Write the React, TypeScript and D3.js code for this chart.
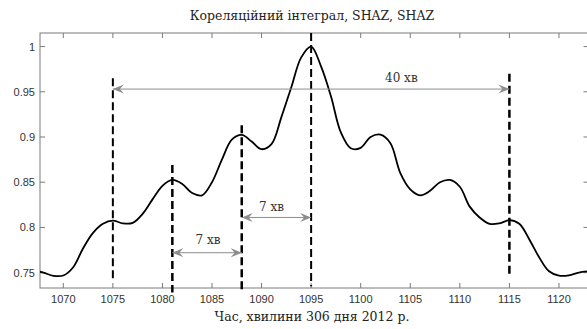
import React, { useRef, useEffect } from "react";
import * as d3 from "d3";

// correlation integral (minute -> value)
const minutes = [
  1067, 1068, 1069, 1070, 1071, 1072, 1073, 1074, 1075, 1076, 1077, 1078, 1079, 1080,
  1081, 1082, 1083, 1084, 1085, 1086, 1087, 1088, 1089, 1090, 1091, 1092, 1093, 1094,
  1095, 1096, 1097, 1098, 1099, 1100, 1101, 1102, 1103, 1104, 1105, 1106, 1107, 1108,
  1109, 1110, 1111, 1112, 1113, 1114, 1115, 1116, 1117, 1118, 1119, 1120, 1121, 1122, 1123,
];
const values = [
  0.7525, 0.75, 0.7465, 0.7468, 0.756, 0.777, 0.794, 0.804, 0.8075, 0.8045, 0.805, 0.815, 0.831, 0.846,
  0.8525, 0.848, 0.838, 0.8355, 0.85, 0.875, 0.897, 0.9023, 0.895, 0.8865, 0.892, 0.922, 0.955, 0.988,
  1.0, 0.978, 0.945, 0.905, 0.8875, 0.888, 0.9, 0.9025, 0.893, 0.86, 0.842, 0.8355, 0.8405, 0.85,
  0.8525, 0.845, 0.823, 0.811, 0.804, 0.8045, 0.808, 0.804, 0.787, 0.767, 0.7515, 0.7467, 0.747, 0.75, 0.7515,
];

const xTicks = [1070, 1075, 1080, 1085, 1090, 1095, 1100, 1105, 1110, 1115, 1120];
const yTicks = [0.75, 0.8, 0.85, 0.9, 0.95, 1];

// dashed markers: [minute, top value, bottom value, width]
const markers = [
  [1075, 0.965, 0.742, 2],
  [1081, 0.869, 0.728, 2.5],
  [1088, 0.913, 0.728, 2.5],
  [1095, 1.015, 0.735, 2],
  [1115, 0.97, 0.746, 2.5],
];

// arrows: [from, to, level, label, label minute, label value]
const spans = [
  [1075, 1115, 0.953, "40 хв", 1104.1, 0.965],
  [1081, 1088, 0.772, "7 хв", 1084.6, 0.786],
  [1088, 1095, 0.811, "7 хв", 1091, 0.823],
];

const serif = "'DejaVu Serif', serif";
const sans = "'Liberation Sans', Arial, sans-serif";

function App() {
  const svgRef = useRef(null);

  useEffect(() => {
    const width = 587;
    const height = 329;
    const left = 40, right = 588.5, top = 33, bottom = 288;

    const svg = d3.select(svgRef.current)
      .attr("width", width)
      .attr("height", height);

    svg.selectAll("*").remove();

    const x = d3.scaleLinear().domain([1067.65, 1122.98]).range([left, right]);
    const y = d3.scaleLinear().domain([0.733, 1.015]).range([bottom, top]);

    const defs = svg.append("defs");
    defs.append("clipPath").attr("id", "plot")
      .append("rect")
      .attr("x", left).attr("y", top)
      .attr("width", right - left).attr("height", bottom - top);

    defs.append("marker")
      .attr("id", "head")
      .attr("viewBox", "-11 -5 12 10")
      .attr("refX", 0).attr("refY", 0)
      .attr("markerWidth", 12).attr("markerHeight", 10)
      .attr("markerUnits", "userSpaceOnUse")
      .attr("orient", "auto-start-reverse")
      .append("path")
      .attr("d", "M0,0 L-11,-4.5 L-7,0 L-11,4.5 Z")
      .attr("fill", "#8c8c8c");

    svg.append("rect").attr("width", width).attr("height", height).attr("fill", "#fff");

    // AXES BOX
    const axisColor = "#7a7a7a";
    svg.append("rect")
      .attr("x", left).attr("y", top)
      .attr("width", right - left).attr("height", bottom - top)
      .attr("fill", "none")
      .attr("stroke", axisColor)
      .attr("stroke-width", 1);

    const ticks = svg.append("g").attr("stroke", axisColor).attr("stroke-width", 1);
    xTicks.forEach(t => {
      ticks.append("line").attr("x1", x(t)).attr("x2", x(t)).attr("y1", bottom).attr("y2", bottom - 5);
      ticks.append("line").attr("x1", x(t)).attr("x2", x(t)).attr("y1", top).attr("y2", top + 5);
    });
    yTicks.forEach(v => {
      ticks.append("line").attr("x1", left).attr("x2", left + 5).attr("y1", y(v)).attr("y2", y(v));
      ticks.append("line").attr("x1", right).attr("x2", right - 5).attr("y1", y(v)).attr("y2", y(v));
    });

    svg.append("g")
      .selectAll("text")
      .data(xTicks)
      .enter()
      .append("text")
      .attr("x", d => x(d))
      .attr("y", bottom + 15)
      .attr("text-anchor", "middle")
      .attr("font-family", sans)
      .attr("font-size", 11)
      .attr("fill", "#333")
      .text(d => d);

    svg.append("g")
      .selectAll("text")
      .data(yTicks)
      .enter()
      .append("text")
      .attr("x", left - 5)
      .attr("y", d => y(d) + 4)
      .attr("text-anchor", "end")
      .attr("font-family", sans)
      .attr("font-size", 11)
      .attr("fill", "#333")
      .text(d => String(d));

    // CURVE
    const pts = minutes.map((m, i) => [m, values[i]]);
    svg.append("path")
      .datum(pts)
      .attr("clip-path", "url(#plot)")
      .attr("fill", "none")
      .attr("stroke", "#000")
      .attr("stroke-width", 1.8)
      .attr("d", d3.line().x(d => x(d[0])).y(d => y(d[1])).curve(d3.curveCatmullRom.alpha(0.5)));

    // DASHED MARKERS
    svg.append("g")
      .selectAll("line")
      .data(markers)
      .enter()
      .append("line")
      .attr("x1", d => x(d[0])).attr("x2", d => x(d[0]))
      .attr("y1", d => y(d[1])).attr("y2", d => y(d[2]))
      .attr("stroke", "#000")
      .attr("stroke-width", d => d[3])
      .attr("stroke-dasharray", "8,4");

    // ARROWS
    const arrows = svg.append("g");
    spans.forEach(s => {
      arrows.append("line")
        .attr("x1", x(s[0])).attr("x2", x(s[1]))
        .attr("y1", y(s[2])).attr("y2", y(s[2]))
        .attr("stroke", "#8c8c8c")
        .attr("stroke-width", 1)
        .attr("marker-start", "url(#head)")
        .attr("marker-end", "url(#head)");
      arrows.append("text")
        .attr("x", x(s[4]))
        .attr("y", y(s[5]) + 4)
        .attr("text-anchor", "middle")
        .attr("font-family", serif)
        .attr("font-size", 12)
        .attr("fill", "#333")
        .text(s[3]);
    });

    // TITLE + LABEL
    svg.append("text")
      .attr("x", 312)
      .attr("y", 20)
      .attr("text-anchor", "middle")
      .attr("font-family", serif)
      .attr("font-size", 12.5)
      .attr("fill", "#222")
      .text("Кореляційний інтеграл, SHAZ, SHAZ");

    svg.append("text")
      .attr("x", 312)
      .attr("y", 321)
      .attr("text-anchor", "middle")
      .attr("font-family", serif)
      .attr("font-size", 12.5)
      .attr("fill", "#222")
      .text("Час, хвилини 306 дня 2012 р.");
  }, []);

  return <svg ref={svgRef} style={{ position: "absolute", left: 0, top: 0, display: "block" }}></svg>;
}

export default App;
